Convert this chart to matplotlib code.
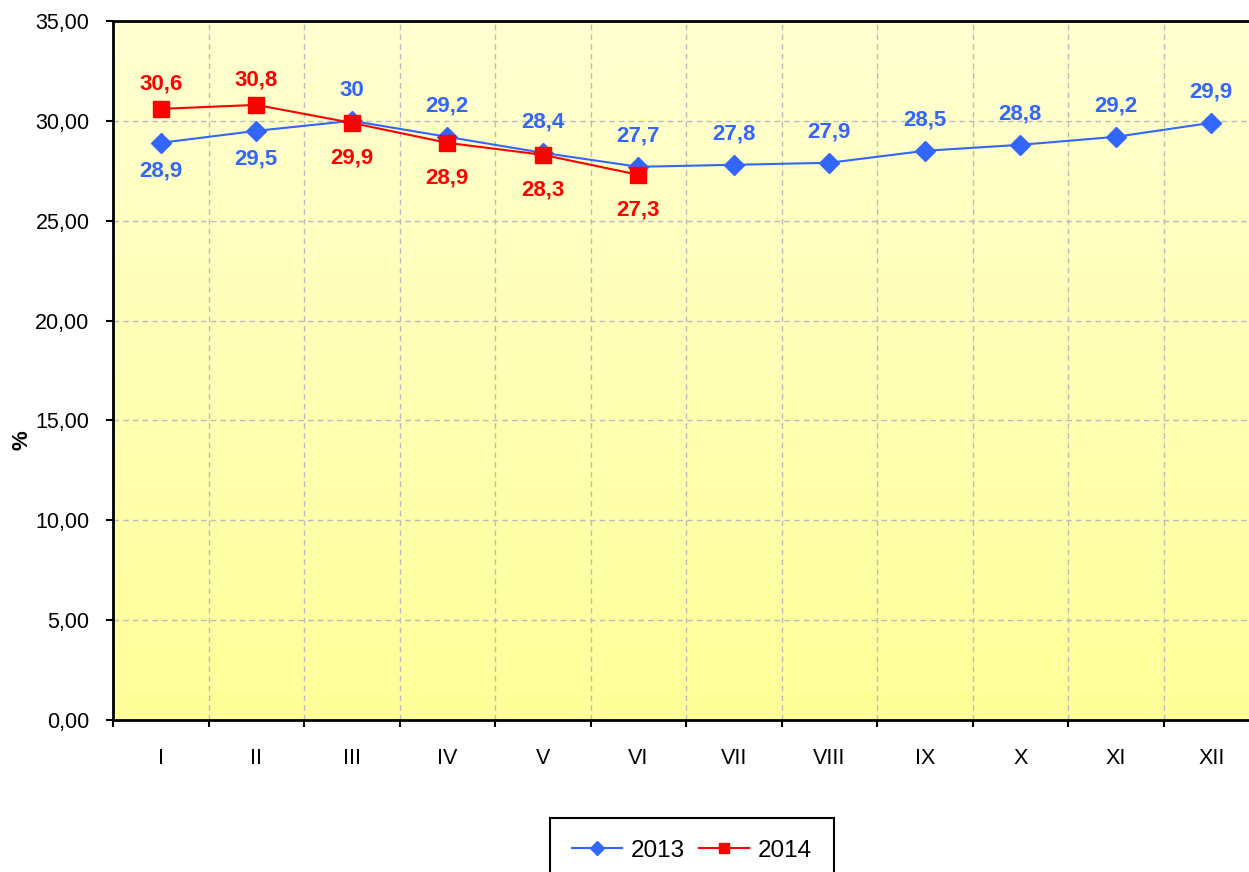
import matplotlib
matplotlib.use('Agg')
import matplotlib.pyplot as plt
import matplotlib.ticker as ticker
import numpy as np
from matplotlib.colors import LinearSegmentedColormap

months = ['I', 'II', 'III', 'IV', 'V', 'VI', 'VII', 'VIII', 'IX', 'X', 'XI', 'XII']
vals_2013 = [28.9, 29.5, 30.0, 29.2, 28.4, 27.7, 27.8, 27.9, 28.5, 28.8, 29.2, 29.9]
vals_2014 = [30.6, 30.8, 29.9, 28.9, 28.3, 27.3]
labels_2013 = ['28,9', '29,5', '30', '29,2', '28,4', '27,7', '27,8', '27,9', '28,5', '28,8', '29,2', '29,9']
labels_2014 = ['30,6', '30,8', '29,9', '28,9', '28,3', '27,3']
# True = label above the point
above_2013 = [False, False, True, True, True, True, True, True, True, True, True, True]
above_2014 = [True, True, False, False, False, False]

BLUE = '#3366FF'
RED = '#FF0000'

plt.rcParams['font.family'] = ['Liberation Sans', 'DejaVu Sans']

W, H = 1249, 872
fig = plt.figure(figsize=(W / 100, H / 100), dpi=100)
left, right, top, bottom = 113, 1259, 21, 720
ax = fig.add_axes([left / W, 1 - bottom / H, (right - left) / W, (bottom - top) / H])

x = np.arange(1, len(months) + 1)
ax.set_xlim(0.5, 12.5)
ax.set_ylim(0, 35)

# gradient background
grad = np.linspace(0, 1, 256).reshape(-1, 1)
cmap = LinearSegmentedColormap.from_list('yel', ['#FFFF99', '#FFFFD2'])
ax.imshow(grad, cmap=cmap, aspect='auto', extent=(0.5, 12.5, 0, 35),
          origin='lower', zorder=0)

ax.plot(x, vals_2013, color=BLUE, marker='D', markersize=10, lw=1.5,
        label='2013', zorder=3)
ax.plot(x[:len(vals_2014)], vals_2014, color=RED, marker='s', markersize=11,
        lw=1.5, label='2014', zorder=4)

# label centre offsets in points
OFF_2013 = (22, -20)
OFF_2014 = (18, -25)
for xi, v, lab, up in zip(x, vals_2013, labels_2013, above_2013):
    ax.annotate(lab, (xi, v), xytext=(0, OFF_2013[0] if up else OFF_2013[1]),
                textcoords='offset points', ha='center', va='center', color=BLUE,
                fontsize=16, fontweight='bold', zorder=5)
for xi, v, lab, up in zip(x, vals_2014, labels_2014, above_2014):
    ax.annotate(lab, (xi, v), xytext=(0, OFF_2014[0] if up else OFF_2014[1]),
                textcoords='offset points', ha='center', va='center', color=RED,
                fontsize=16, fontweight='bold', zorder=5)

# ticks
ax.set_yticks(np.arange(0, 36, 5))
ax.yaxis.set_major_formatter(ticker.FuncFormatter(lambda v, p: f'{v:.2f}'.replace('.', ',')))
ax.set_xticks(np.arange(0.5, 12.6, 1))
ax.set_xticklabels([])
ax.set_xticks(x, minor=True)
ax.set_xticklabels(months, minor=True)
ax.tick_params(axis='x', which='minor', length=0, pad=20, labelsize=15.5)
ax.tick_params(axis='x', which='major', direction='out', length=5, width=1.5)
ax.tick_params(axis='y', direction='out', length=5, width=1.5, labelsize=15.5, pad=12)

ax.grid(True, which='major', color='#BBBBBB', linestyle=(0, (4, 3)), lw=1)
for gl in ax.get_xgridlines() + ax.get_ygridlines():
    gl.set_zorder(1)

for s in ['left', 'bottom', 'top']:
    ax.spines[s].set_linewidth(2)
    ax.spines[s].set_color('black')
    ax.spines[s].set_zorder(10)
ax.spines['right'].set_visible(False)

ax.set_ylabel('%', fontsize=16, fontweight='bold')
ax.yaxis.set_label_coords((32 - left) / (right - left), (bottom - 440) / (bottom - top))

leg = fig.legend(loc='upper center', bbox_to_anchor=(692 / W, 1 - 818 / H), ncol=2,
                 fontsize=17.5, frameon=True, fancybox=False, edgecolor='black',
                 framealpha=1, handlelength=2.05, columnspacing=0.6,
                 handletextpad=0.37, borderpad=0.9, borderaxespad=0, markerscale=0.7)
leg.get_frame().set_linewidth(1.5)

fig.savefig('out.png', dpi=100)
